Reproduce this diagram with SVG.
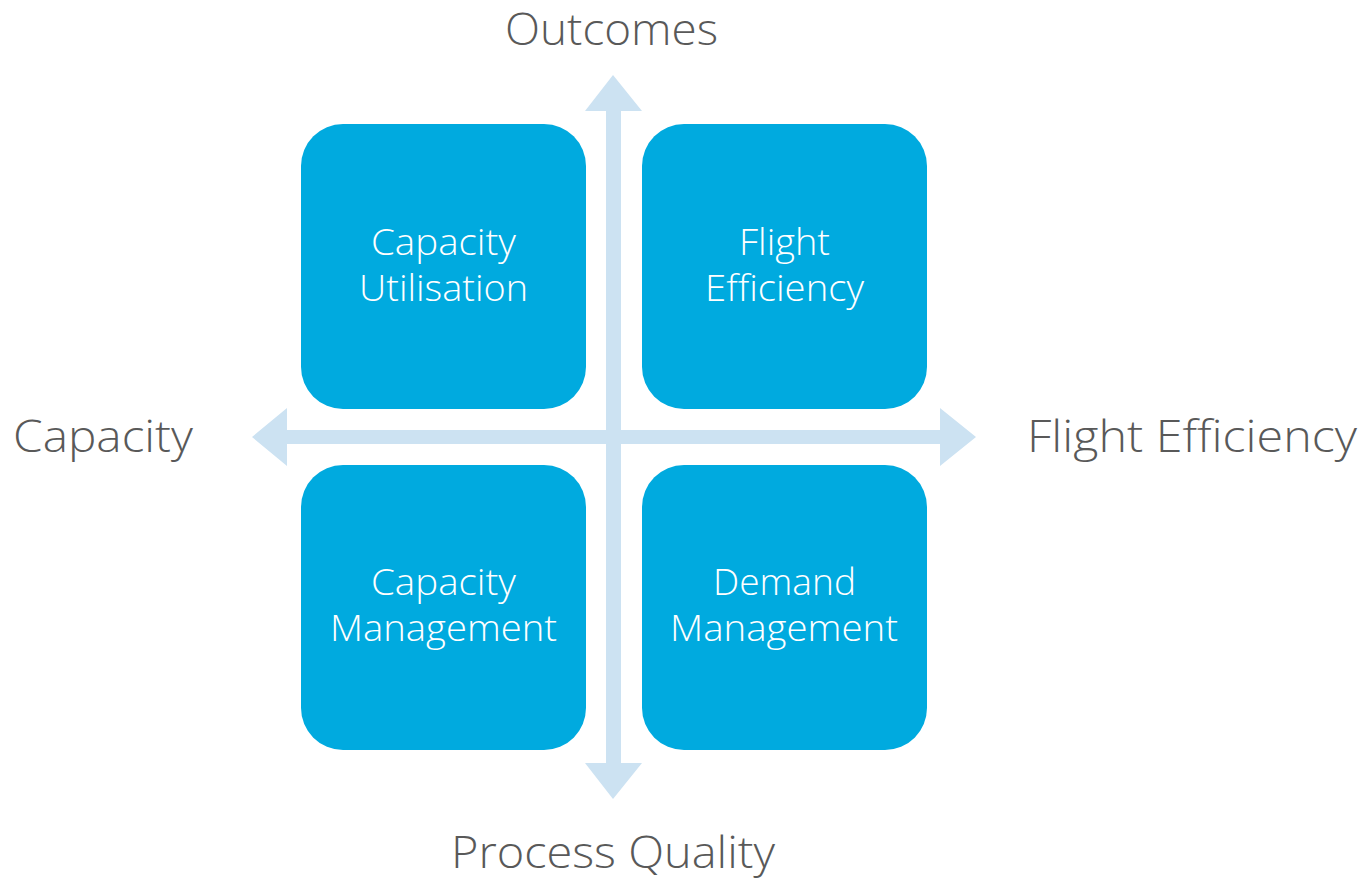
<svg xmlns="http://www.w3.org/2000/svg" width="1369" height="880" viewBox="0 0 1369 880">
<style>
.box{fill:#00AADF}
.axis{fill:#CCE2F2}
.lbl{font-family:"Open Sans","Liberation Sans",sans-serif;font-weight:300;fill:#595959;font-size:45px}
.bt{font-family:"Open Sans","Liberation Sans",sans-serif;font-weight:300;fill:#FFFFFF;font-size:36px}
</style>
<rect width="1369" height="880" fill="#FFFFFF"/>
<g id="connectors">
<polygon class="axis" points="613,75 642,111 621,111 621,763 642,763 613,799 585,763 606,763 606,111 585,111"/>
<polygon class="axis" points="252,437 287,408 287,430 940,430 940,408 976,437 940,466 940,444 287,444 287,466"/>
</g>
<g id="label-outcomes"><text class="lbl" x="505" y="45" textLength="213" lengthAdjust="spacingAndGlyphs">Outcomes</text></g>
<g id="label-capacity"><text class="lbl" x="13" y="452" textLength="180" lengthAdjust="spacingAndGlyphs">Capacity</text></g>
<g id="label-flight-efficiency"><text class="lbl" x="1027" y="452" textLength="330" lengthAdjust="spacingAndGlyphs">Flight Efficiency</text></g>
<g id="label-process-quality"><text class="lbl" x="451" y="868" textLength="324" lengthAdjust="spacingAndGlyphs">Process Quality</text></g>
<g id="capacity-utilisation">
<rect class="box" x="301" y="124" width="285" height="285" rx="42"/>
<text class="bt" x="371" y="255" textLength="145" lengthAdjust="spacingAndGlyphs">Capacity</text>
<text class="bt" x="359" y="301" textLength="169" lengthAdjust="spacingAndGlyphs">Utilisation</text>
</g>
<g id="flight-efficiency">
<rect class="box" x="642" y="124" width="285" height="285" rx="42"/>
<text class="bt" x="739" y="255" textLength="91" lengthAdjust="spacingAndGlyphs">Flight</text>
<text class="bt" x="705" y="301" textLength="159" lengthAdjust="spacingAndGlyphs">Efficiency</text>
</g>
<g id="capacity-management">
<rect class="box" x="301" y="465" width="285" height="285" rx="42"/>
<text class="bt" x="371" y="595" textLength="145" lengthAdjust="spacingAndGlyphs">Capacity</text>
<text class="bt" x="330" y="641" textLength="227" lengthAdjust="spacingAndGlyphs">Management</text>
</g>
<g id="demand-management">
<rect class="box" x="642" y="465" width="285" height="285" rx="42"/>
<text class="bt" x="713" y="595" textLength="143" lengthAdjust="spacingAndGlyphs">Demand</text>
<text class="bt" x="670" y="641" textLength="228" lengthAdjust="spacingAndGlyphs">Management</text>
</g>
</svg>
